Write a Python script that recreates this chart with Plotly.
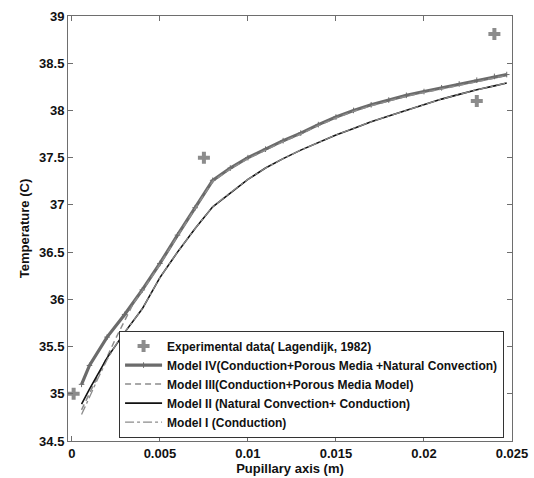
import plotly.graph_objects as go

# Pupillary axis positions (m) and temperatures (C)
exp_x = [0.0001, 0.0075, 0.0230, 0.0240]
exp_t = [35.00, 37.50, 38.10, 38.81]

m4_x = [0.00055, 0.0010, 0.0020, 0.0030, 0.0040, 0.0050, 0.0060, 0.0070, 0.0080,
        0.0090, 0.0100, 0.0110, 0.0120, 0.0130, 0.0140, 0.0150, 0.0160, 0.0170,
        0.0180, 0.0190, 0.0200, 0.0210, 0.0220, 0.0230, 0.0240, 0.0247]
m4_t = [35.10, 35.30, 35.60, 35.84, 36.10, 36.38, 36.68, 36.97, 37.26,
        37.39, 37.50, 37.59, 37.68, 37.76, 37.85, 37.93, 38.00, 38.06,
        38.11, 38.16, 38.20, 38.24, 38.28, 38.32, 38.36, 38.38]

m3_x = [0.00055, 0.0010, 0.0015, 0.0020, 0.0025, 0.0030, 0.0035, 0.0040, 0.0050,
        0.0060, 0.0070, 0.0080, 0.0090, 0.0100, 0.0110, 0.0120, 0.0130, 0.0140,
        0.0150, 0.0160, 0.0170, 0.0180, 0.0190, 0.0200, 0.0210, 0.0220, 0.0230,
        0.0240, 0.0247]
m3_t = [34.83, 35.00, 35.20, 35.39, 35.59, 35.78, 35.96, 36.09, 36.37,
        36.67, 36.96, 37.25, 37.38, 37.49, 37.58, 37.67, 37.75, 37.84,
        37.92, 37.99, 38.05, 38.10, 38.15, 38.19, 38.23, 38.27, 38.31,
        38.35, 38.37]

m2_x = [0.00055, 0.0010, 0.0020, 0.0030, 0.0040, 0.0050, 0.0060, 0.0070, 0.0080,
        0.0090, 0.0100, 0.0110, 0.0120, 0.0130, 0.0140, 0.0150, 0.0160, 0.0170,
        0.0180, 0.0190, 0.0200, 0.0210, 0.0220, 0.0230, 0.0240, 0.0247]
m2_t = [34.89, 35.05, 35.38, 35.65, 35.90, 36.23, 36.50, 36.75, 36.98,
        37.13, 37.27, 37.39, 37.49, 37.58, 37.66, 37.74, 37.81, 37.88,
        37.94, 38.00, 38.06, 38.12, 38.17, 38.22, 38.26, 38.29]

m1_x = [0.00055, 0.0010, 0.0015, 0.0020, 0.0025, 0.0030, 0.0040, 0.0050, 0.0060,
        0.0070, 0.0080, 0.0090, 0.0100, 0.0110, 0.0120, 0.0130, 0.0140, 0.0150,
        0.0160, 0.0170, 0.0180, 0.0190, 0.0200, 0.0210, 0.0220, 0.0230, 0.0240,
        0.0247]
m1_t = [34.78, 34.97, 35.17, 35.36, 35.52, 35.65, 35.90, 36.23, 36.50,
        36.75, 36.98, 37.13, 37.27, 37.39, 37.49, 37.58, 37.66, 37.74,
        37.81, 37.88, 37.94, 38.00, 38.06, 38.12, 38.17, 38.22, 38.26,
        38.29]

x_ticks = [0, 0.005, 0.01, 0.015, 0.02, 0.025]
x_labels = ["0", "0.005", "0.01", "0.015", "0.02", "0.025"]
y_ticks = [34.5, 35, 35.5, 36, 36.5, 37, 37.5, 38, 38.5, 39]
y_labels = ["34.5", "35", "35.5", "36", "36.5", "37", "37.5", "38", "38.5", "39"]

FONT = "Liberation Sans, Arial, sans-serif"

fig = go.Figure()

fig.add_trace(go.Scatter(
    x=exp_x, y=exp_t, mode="markers",
    name="Experimental data( Lagendijk, 1982)",
    marker=dict(symbol="cross", size=10, color="#8c8c8c", line=dict(width=0)),
))
fig.add_trace(go.Scatter(
    x=m4_x, y=m4_t, mode="lines+markers",
    name="Model IV(Conduction+Porous Media +Natural Convection)",
    line=dict(color="#6b6b6b", width=3.2),
    marker=dict(symbol="cross-thin", size=4, color="#6b6b6b",
                line=dict(color="#6b6b6b", width=1)),
))
fig.add_trace(go.Scatter(
    x=m3_x, y=m3_t, mode="lines",
    name="Model III(Conduction+Porous Media Model)",
    line=dict(color="#8c8c8c", width=1.5, dash="6px,4px"),
))
fig.add_trace(go.Scatter(
    x=m2_x, y=m2_t, mode="lines",
    name="Model II (Natural Convection+ Conduction)",
    line=dict(color="#111111", width=1.6),
))
fig.add_trace(go.Scatter(
    x=m1_x, y=m1_t, mode="lines",
    name="Model I (Conduction)",
    line=dict(color="#8c8c8c", width=1.3, dash="dashdot"),
))

axis_common = dict(
    showline=True, linecolor="#6e6e6e", linewidth=1, mirror="ticks",
    ticks="inside", ticklen=5, tickcolor="#6e6e6e", tickwidth=1,
    showgrid=False, zeroline=False, automargin=False,
    tickfont=dict(family=FONT, size=13, color="#111111", weight="bold"),
)

fig.update_xaxes(
    range=[-0.00022, 0.025], tickvals=x_ticks, ticktext=x_labels,
    title=dict(text="Pupillary axis (m)", standoff=2,
               font=dict(family=FONT, size=13, color="#111111", weight="bold")),
    **axis_common,
)
fig.update_yaxes(
    range=[34.5, 39], tickvals=y_ticks, ticktext=y_labels,
    title=dict(text="Temperature (C)", standoff=6,
               font=dict(family=FONT, size=13, color="#111111", weight="bold")),
    **axis_common,
)

fig.update_layout(
    width=534, height=478,
    margin=dict(l=68, r=22, t=16, b=37),
    paper_bgcolor="white", plot_bgcolor="white",
    legend=dict(
        x=0.115, y=0.008, xanchor="left", yanchor="bottom",
        bgcolor="white", bordercolor="#333333", borderwidth=1,
        font=dict(family=FONT, size=12, color="#111111", weight="bold"),
        itemwidth=37, tracegroupgap=0,
    ),
    showlegend=True,
)

fig.write_html("out.html")
